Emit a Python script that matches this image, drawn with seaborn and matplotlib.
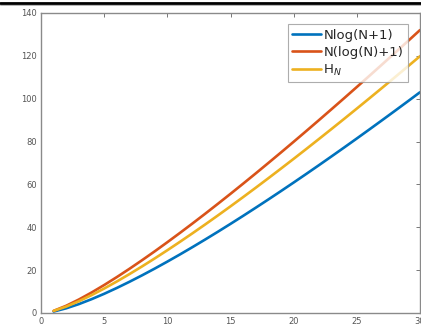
import numpy as np
import pandas as pd
import matplotlib
matplotlib.use('Agg')
import matplotlib.pyplot as plt
from matplotlib.lines import Line2D
import seaborn as sns

# values (N = 1..30)
n_values = list(range(1, 31))
nlog_n1 = [0.69, 2.20, 4.16, 6.44, 8.96, 11.68, 14.56, 17.58, 20.72, 23.98,
           27.33, 30.78, 34.31, 37.91, 41.59, 45.33, 49.14, 53.00, 56.92, 60.89,
           64.91, 68.98, 73.10, 77.25, 81.45, 85.69, 89.97, 94.28, 98.63, 103.02]
n_logn_1 = [1.00, 3.39, 6.30, 9.55, 13.05, 16.75, 20.62, 24.64, 28.77, 33.03,
            37.38, 41.82, 46.34, 50.95, 55.62, 60.36, 65.16, 70.03, 74.94, 79.91,
            84.93, 90.00, 95.12, 100.27, 105.47, 110.71, 115.99, 121.30, 126.65, 132.04]
h_n = [1.00, 3.00, 5.50, 8.33, 11.42, 14.70, 18.15, 21.74, 25.46, 29.29,
       33.22, 37.24, 41.34, 45.52, 49.77, 54.09, 58.47, 62.91, 67.41, 71.95,
       76.55, 81.20, 85.89, 90.62, 95.40, 100.21, 105.07, 109.96, 114.89, 119.85]
series_names = ['Nlog(N+1)', 'N(log(N)+1)', 'H$_N$']
colors = ['#0072BD', '#D95319', '#EDB120']
x_ticks = [0, 5, 10, 15, 20, 25, 30]
y_ticks = [0, 20, 40, 60, 80, 100, 120, 140]

df = pd.DataFrame({
    'N': n_values * 3,
    'value': nlog_n1 + n_logn_1 + h_n,
    'series': [series_names[0]] * 30 + [series_names[1]] * 30 + [series_names[2]] * 30,
})

sns.set_style('white')
fig = plt.figure(figsize=(4.21, 3.26), dpi=100)
ax = fig.add_axes([41 / 421, 13 / 326, 379 / 421, 300 / 326])

sns.lineplot(data=df, x='N', y='value', hue='series', palette=colors,
             linewidth=1.9, ax=ax, legend=False)

ax.set_xlim(0, 30)
ax.set_ylim(0, 140)
ax.set_xticks(x_ticks)
ax.set_yticks(y_ticks)
ax.set_xlabel('')
ax.set_ylabel('')
ax.tick_params(direction='in', length=3, width=0.7, color='#777777',
               labelsize=6, labelcolor='#555555', top=True, right=True, pad=3)
for sp in ax.spines.values():
    sp.set_color('#8a8a8a')
    sp.set_linewidth(1.0)

handles = [Line2D([0], [0], color=c, lw=1.9) for c in colors]
leg = ax.legend(handles, series_names, loc='upper right',
                bbox_to_anchor=(0.968, 0.963), fontsize=9.5, frameon=True,
                fancybox=False, handlelength=2.2, handletextpad=0.15,
                borderpad=0.35, labelspacing=0.3, borderaxespad=0)
leg.get_frame().set_edgecolor('#999999')
leg.get_frame().set_linewidth(0.8)

# dark bar along the top of the screenshot
fig.add_artist(Line2D([0, 1], [1 - 2.5 / 326, 1 - 2.5 / 326], color='black', lw=2.0))
fig.add_artist(Line2D([0, 1], [1 - 5 / 326, 1 - 5 / 326], color='#aaaaaa', lw=0.6))

fig.savefig('out.png', dpi=100)
